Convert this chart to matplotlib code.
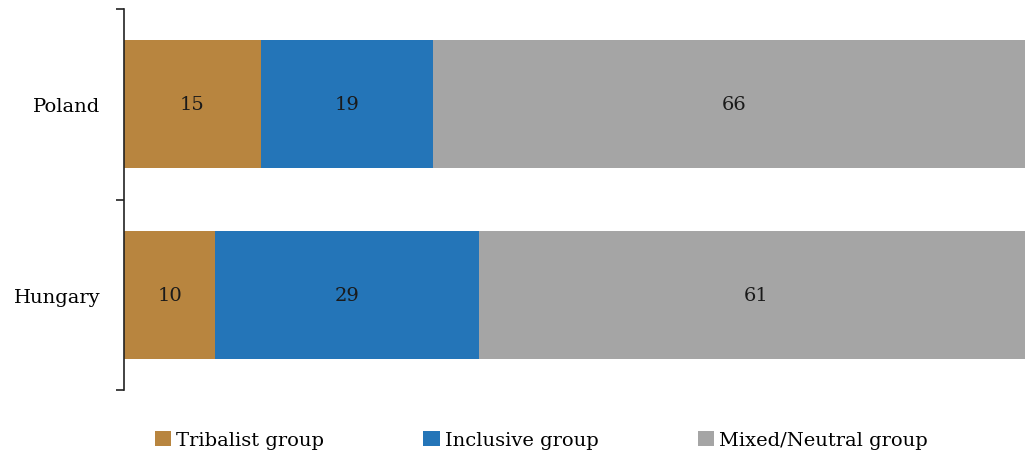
import matplotlib
matplotlib.use("Agg")
from matplotlib import pyplot as plt
import numpy as np

countries = ["Hungary", "Poland"]
groups = ["Tribalist group", "Inclusive group", "Mixed/Neutral group"]
tribalist = [10, 15]
inclusive = [29, 19]
mixed = [61, 66]
colors = ["#B8853F", "#2475B8", "#A5A5A5"]

plt.rcParams["font.family"] = ["DejaVu Serif"]

fig = plt.figure(figsize=(10.25, 4.56), dpi=100)
ax = fig.add_axes([0.121, 0.1425, 0.888, 0.8355])

y = np.arange(len(countries))
left = np.zeros(len(countries))
for series, name, col in zip([tribalist, inclusive, mixed], groups, colors):
    bars = ax.barh(y, series, left=left, height=0.67, color=col, label=name)
    for b, v in zip(bars, series):
        ax.text(b.get_x() + b.get_width() / 2, b.get_y() + b.get_height() / 2, str(v),
                ha="center", va="center", fontsize=14, color="#1a1a1a")
    left += np.array(series)

ax.set_xlim(0, 100)
ax.set_ylim(-0.5, 1.5)
ax.set_xticks([])
ax.set_yticks([-0.5, 0.5, 1.5])
ax.set_yticklabels([])
ax.set_yticks(y, minor=True)
ax.set_yticklabels(countries, minor=True, fontsize=14)
ax.tick_params(axis="y", which="major", length=6, width=1.2, color="#222222")
ax.tick_params(axis="y", which="minor", length=0, pad=17)
for s in ["top", "right", "bottom"]:
    ax.spines[s].set_visible(False)
ax.spines["left"].set_linewidth(1.2)
ax.spines["left"].set_color("#222222")

fig.legend(loc="center left", bbox_to_anchor=(0.151, 0.033), ncol=3, frameon=False,
           fontsize=14, handlelength=0.85, handleheight=0.85, handletextpad=0.25,
           columnspacing=5.1, borderaxespad=0, borderpad=0)

fig.savefig("out.png", dpi=100)
